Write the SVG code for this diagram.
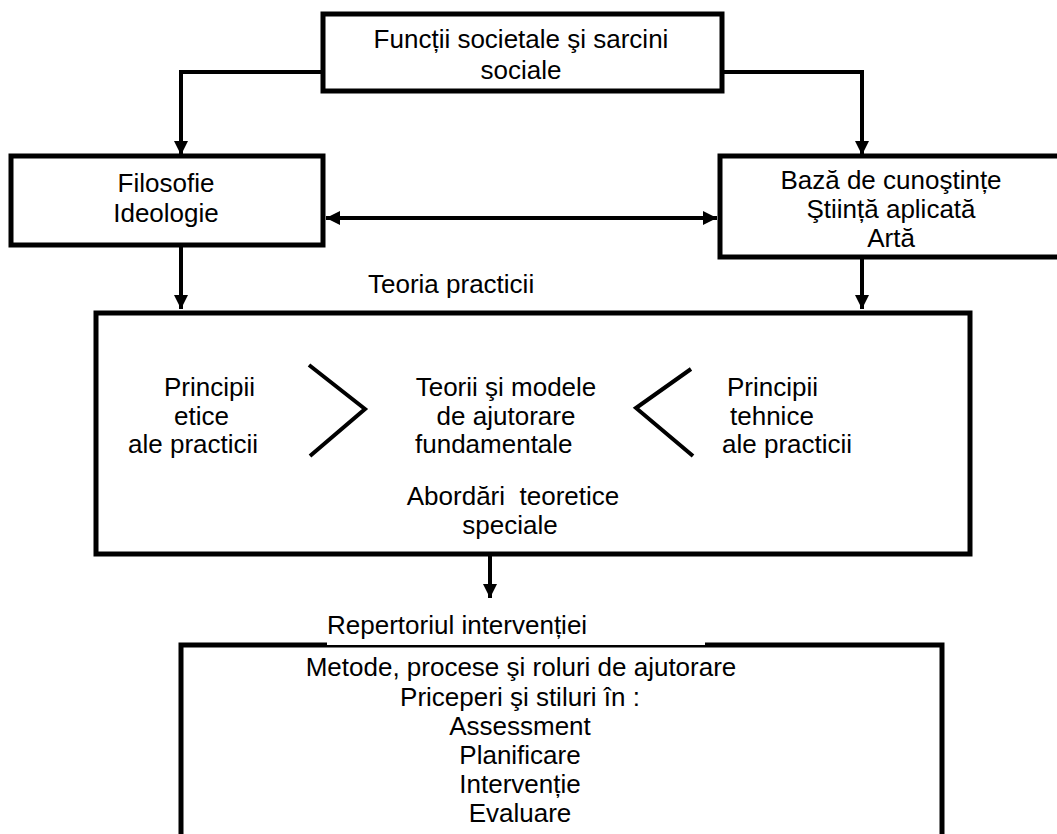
<svg xmlns="http://www.w3.org/2000/svg" width="1057" height="834" viewBox="0 0 1057 834">
<defs>
<style>
.box{fill:#fff;stroke:#000;stroke-width:5}
.ln{fill:none;stroke:#000;stroke-width:4}
text{font-family:"Liberation Sans",Arial,sans-serif;font-size:26px;fill:#000}
.c{text-anchor:middle}
</style>
<marker id="ah" viewBox="0 0 10 10" refX="10" refY="5" markerWidth="3.6" markerHeight="3.6" markerUnits="strokeWidth" orient="auto-start-reverse">
<path d="M0,0 L10,5 L0,10 z" fill="#000"/>
</marker>
</defs>
<rect width="1057" height="834" fill="#fff"/>
<g id="connectors">
<path class="ln" d="M323,72 H181 V155" marker-end="url(#ah)"/>
<path class="ln" d="M722,72 H862 V155" marker-end="url(#ah)"/>
<path class="ln" d="M326,218 H717" marker-start="url(#ah)" marker-end="url(#ah)"/>
<path class="ln" d="M181,247 V309" marker-end="url(#ah)"/>
<path class="ln" d="M862,259 V309" marker-end="url(#ah)"/>
<path class="ln" d="M490,556 V598" marker-end="url(#ah)"/>
</g>
<g id="n1">
<rect class="box" x="323" y="14" width="399" height="77"/>
<text class="c" x="521" y="48">Funcții societale şi sarcini</text>
<text class="c" x="521" y="79">sociale</text>
</g>
<g id="n2">
<rect class="box" x="11" y="156" width="312" height="89"/>
<text class="c" x="166" y="192">Filosofie</text>
<text class="c" x="166" y="222">Ideologie</text>
</g>
<g id="n3">
<rect class="box" x="720" y="156" width="345" height="101"/>
<text class="c" x="891" y="189">Bază de cunoştințe</text>
<text class="c" x="891" y="218">Ştiință aplicată</text>
<text class="c" x="891" y="247">Artă</text>
</g>
<text id="teoria" x="368" y="293">Teoria practicii</text>
<g id="n4">
<rect class="box" x="96" y="313" width="874" height="241"/>
<text x="164" y="396">Principii</text>
<text x="174" y="425">etice</text>
<text x="128" y="453">ale practicii</text>
<text class="c" x="506" y="396">Teorii şi modele</text>
<text class="c" x="506" y="425">de ajutorare</text>
<text x="415" y="453">fundamentale</text>
<text x="727" y="396">Principii</text>
<text x="730" y="425">tehnice</text>
<text x="722" y="453">ale practicii</text>
<text class="c" x="513" y="505" xml:space="preserve">Abordări  teoretice</text>
<text class="c" x="510" y="534">speciale</text>
<path class="ln" d="M309,365 L365,409 L310,456"/>
<path class="ln" d="M691,369 L636,408 L693,456"/>
</g>
<g id="n5">
<rect class="box" x="181" y="645" width="761" height="200"/>
<rect x="327" y="605" width="378" height="40" fill="#fff"/>
<text x="327" y="634">Repertoriul intervenției</text>
<text class="c" x="521" y="676">Metode, procese şi roluri de ajutorare</text>
<text class="c" x="520" y="706">Priceperi şi stiluri în :</text>
<text class="c" x="520" y="735">Assessment</text>
<text class="c" x="520" y="764">Planificare</text>
<text class="c" x="520" y="793">Intervenție</text>
<text class="c" x="520" y="822">Evaluare</text>
</g>
</svg>
